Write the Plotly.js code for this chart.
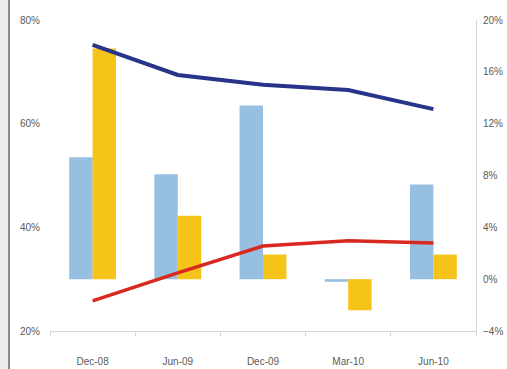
<!DOCTYPE html>
<html>
<head>
<meta charset="utf-8">
<script src="https://cdn.plot.ly/plotly-3.0.1.min.js"></script>
<style>
  html, body { margin: 0; padding: 0; background: #fff; }
  #wrap { position: relative; width: 507px; height: 369px; overflow: hidden; }
  #chart { position: absolute; left: 0; top: 0; width: 507px; height: 369px; }
  #frame { position: absolute; left: 0; top: 0; width: 8px; height: 369px; background: #ececec; border-right: 2px solid #8a8a8a; }
</style>
</head>
<body>
<div id="wrap">
  <div id="chart"></div>
  <div id="frame"></div>
</div>
<script>
const categories = ["Dec-08", "Jun-09", "Dec-09", "Mar-10", "Jun-10"];
// bar series (right axis, %)
const blueBars = [9.4, 8.1, 13.4, -0.2, 7.3];
const yellowBars = [17.8, 4.9, 1.9, -2.4, 1.9];
// line series (left axis, %)
const navyLine = [75.2, 69.4, 67.5, 66.5, 62.8];
const redLine = [25.8, 31.2, 36.4, 37.4, 37.0];

const traces = [
  { type: "bar", x: categories, y: blueBars, yaxis: "y", marker: { color: "#97bfe2" }, name: "A" },
  { type: "bar", x: categories, y: yellowBars, yaxis: "y", marker: { color: "#f6c419" }, name: "B" },
  { type: "scatter", mode: "lines", x: categories, y: navyLine, yaxis: "y2", line: { color: "#28348a", width: 4 }, name: "C" },
  { type: "scatter", mode: "lines", x: categories, y: redLine, yaxis: "y2", line: { color: "#d8281f", width: 3.5 }, name: "D" }
];

const tickFont = { family: "Liberation Sans, Arial, sans-serif", size: 10, color: "#5a5a5a" };

const layout = {
  width: 507, height: 369,
  margin: { l: 50, r: 31, t: 20, b: 38 },
  paper_bgcolor: "#fff", plot_bgcolor: "#fff",
  showlegend: false,
  barmode: "group",
  bargap: 0.45,
  bargroupgap: 0,
  xaxis: {
    type: "category",
    showgrid: false,
    showline: true, linecolor: "#d6d6d6", linewidth: 1,
    ticks: "outside", tickson: "boundaries", ticklen: 4, tickcolor: "#d6d6d6",
    ticklabelstandoff: 21,
    tickfont: { family: "Liberation Sans, Arial, sans-serif", size: 10, color: "#5a5a5a" },
    zeroline: false
  },
  yaxis: {
    side: "right",
    range: [-4, 20], dtick: 4, tick0: -4,
    ticksuffix: "%",
    showgrid: false, zeroline: false,
    showline: true, linecolor: "#d6d6d6", linewidth: 1,
    ticks: "", ticklabelstandoff: 4,
    tickfont: tickFont
  },
  yaxis2: {
    overlaying: "y", side: "left",
    range: [20, 80], dtick: 20, tick0: 20,
    ticksuffix: "%",
    showgrid: false, zeroline: false, showline: false,
    ticks: "", ticklabelstandoff: 9,
    tickfont: tickFont
  }
};

Plotly.newPlot("chart", traces, layout, { displayModeBar: false, staticPlot: true });
</script>
</body>
</html>
